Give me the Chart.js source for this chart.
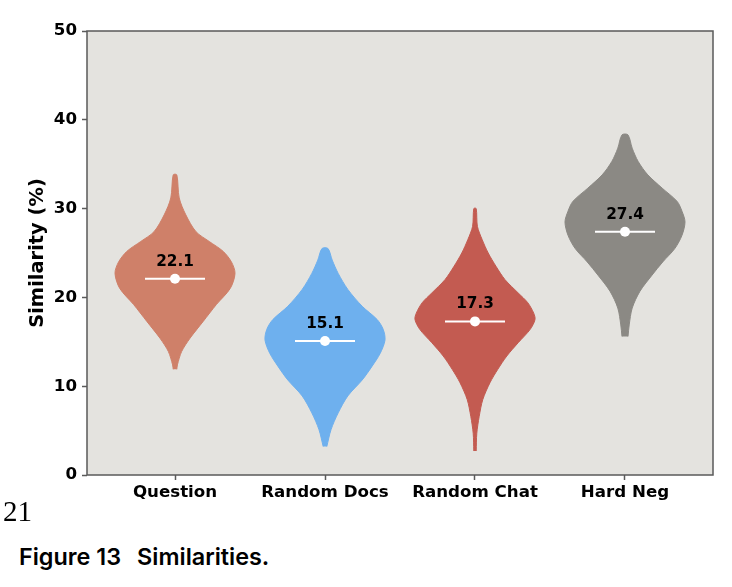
<!DOCTYPE html>
<html>
<head>
<meta charset="utf-8">
<script src="https://cdn.jsdelivr.net/npm/chart.js@4.4.1/dist/chart.umd.min.js"></script>
<style>
  body { margin: 0; background: #fff; width: 732px; height: 587px; position: relative; overflow: hidden; }
  #grafica { position: absolute; left: 0; top: 0; }
  #pagina { position: absolute; left: 3px; top: 497px; font: 29px/29px "Liberation Serif"; color: #000; }
  #pie { position: absolute; left: 19px; top: 545px; font: 600 23.4px/23px Inter; color: #000; white-space: pre; }
  #pie span { margin-left: 16px; }
</style>
</head>
<body>
<canvas id="grafica" width="732" height="510"></canvas>
<div id="pagina">21</div>
<div id="pie">Figure 13<span>Similarities.</span></div>
<script>
const categorias = ['Question', 'Random Docs', 'Random Chat', 'Hard Neg']
const medias = [22.1, 15.1, 17.3, 27.4]
const colores = ['#cf8069', '#6eb0ee', '#c35b51', '#8b8984']

// perfil de cada violin: valores de similitud (de abajo hacia arriba) y densidad relativa
const yQuestion = [11.9, 12.4, 13.9, 15.4, 17.3, 19.2, 21.0, 22.7, 24.0, 25.2, 26.3, 27.4, 29.3, 31.2, 33.8]
const dQuestion = [0.03, 0.04, 0.11, 0.25, 0.47, 0.69, 0.92, 1.0, 0.94, 0.80, 0.57, 0.35, 0.18, 0.07, 0.03]

const yDocs = [3.2, 5.1, 7.0, 8.9, 10.7, 12.2, 13.7, 15.2, 16.4, 17.5, 19.0, 20.9, 22.7, 24.2, 25.5]
const dDocs = [0.03, 0.10, 0.22, 0.38, 0.62, 0.78, 0.92, 1.0, 0.97, 0.87, 0.62, 0.38, 0.22, 0.12, 0.05]

const yChat = [2.7, 4.7, 6.6, 8.5, 10.4, 11.9, 13.4, 14.9, 16.4, 17.5, 18.2, 19.4, 20.5, 22.0, 23.5, 25.0, 26.5, 28.0, 30.0]
const dChat = [0.02, 0.03, 0.07, 0.13, 0.25, 0.38, 0.53, 0.72, 0.92, 1.0, 0.98, 0.88, 0.72, 0.50, 0.35, 0.22, 0.12, 0.04, 0.02]

const yHard = [15.6, 16.9, 18.8, 20.7, 22.5, 24.0, 25.5, 27.0, 28.5, 29.7, 30.8, 32.3, 33.8, 35.3, 36.8, 38.3]
const dHard = [0.05, 0.07, 0.12, 0.25, 0.45, 0.63, 0.83, 0.95, 1.0, 0.95, 0.87, 0.62, 0.38, 0.22, 0.12, 0.05]

const perfiles = [[yQuestion, dQuestion], [yDocs, dDocs], [yChat, dChat], [yHard, dHard]]

const ANCHO = 0.4      // media anchura maxima del violin (unidades de categoria)
const MEDIANA = 0.2    // media longitud de la linea blanca

Chart.defaults.font.family = '"DejaVu Sans"'

const contorno = (pos, ys, ds) => {
    const der = ys.map((y, k) => ({ x: pos + ANCHO * ds[k], y }))
    const izq = ys.map((y, k) => ({ x: pos - ANCHO * ds[k], y })).reverse()
    return der.concat(izq)
}

const datasets = []

perfiles.forEach(([ys, ds], i) => {
    datasets.push({
        data: contorno(i, ys, ds),
        showLine: true,
        fill: 'shape',
        backgroundColor: colores[i],
        borderColor: colores[i],
        borderWidth: 1,
        tension: 0.3,
        pointRadius: 0,
        order: 3
    })
    datasets.push({
        data: [{ x: i - MEDIANA, y: medias[i] }, { x: i + MEDIANA, y: medias[i] }],
        showLine: true,
        borderColor: '#ffffff',
        borderWidth: 2,
        pointRadius: 0,
        order: 2
    })
})

datasets.push({
    data: medias.map((m, i) => ({ x: i, y: m })),
    showLine: false,
    pointRadius: 5,
    pointBackgroundColor: '#ffffff',
    pointBorderColor: '#ffffff',
    pointBorderWidth: 0,
    order: 1
})

const fondo = {
    id: 'fondo',
    beforeDraw(chart) {
        const { ctx, chartArea: a } = chart
        ctx.save()
        ctx.fillStyle = '#e4e3df'
        ctx.fillRect(a.left, a.top, a.right - a.left, a.bottom - a.top)
        ctx.restore()
    },
    afterDraw(chart) {
        const { ctx, chartArea: a } = chart
        ctx.save()
        ctx.strokeStyle = '#5a5a5a'
        ctx.lineWidth = 1.5
        ctx.strokeRect(a.left, a.top, a.right - a.left, a.bottom - a.top)
        ctx.restore()
    }
}

const etiquetas = {
    id: 'etiquetas',
    afterDatasetsDraw(chart) {
        const { ctx, scales: { x, y } } = chart
        ctx.save()
        ctx.font = 'bold 15.3px "DejaVu Sans"'
        ctx.fillStyle = '#000'
        ctx.textAlign = 'center'
        ctx.textBaseline = 'middle'
        medias.forEach((m, i) => {
            ctx.fillText(m.toFixed(1), x.getPixelForValue(i), y.getPixelForValue(m) - 17)
        })
        ctx.restore()
    }
}

const context = document.getElementById('grafica').getContext('2d')

const chartViolin = new Chart(context, {
    type: 'scatter',
    data: { datasets },
    options: {
        responsive: false,
        animation: false,
        devicePixelRatio: 1,
        layout: { padding: { top: 31, right: 19, left: 22, bottom: 0 } },
        plugins: {
            legend: { display: false },
            tooltip: { enabled: false }
        },
        scales: {
            x: {
                type: 'linear',
                min: -0.5867,
                max: 3.5867,
                afterBuildTicks: scale => { scale.ticks = categorias.map((c, i) => ({ value: i })) },
                afterFit: scale => { scale.height = 35 },
                border: { display: false },
                grid: { drawOnChartArea: false, drawTicks: true, tickLength: 5, tickColor: '#5a5a5a', tickWidth: 1.5 },
                ticks: {
                    autoSkip: false,
                    maxRotation: 0,
                    padding: 3,
                    color: '#000',
                    font: { size: 16.67, weight: 'bold' },
                    callback: v => categorias[v]
                }
            },
            y: {
                min: 0,
                max: 50,
                afterFit: scale => { scale.width = 65 },
                border: { display: false },
                grid: { drawOnChartArea: false, drawTicks: true, tickLength: 5, tickColor: '#5a5a5a', tickWidth: 1.5 },
                ticks: {
                    stepSize: 10,
                    padding: 5,
                    color: '#000',
                    font: { size: 16.67, weight: 'bold' }
                },
                title: {
                    display: true,
                    text: 'Similarity (%)',
                    color: '#000',
                    font: { size: 19.44, weight: 'bold' }
                }
            }
        }
    },
    plugins: [fondo, etiquetas]
})
</script>
</body>
</html>
